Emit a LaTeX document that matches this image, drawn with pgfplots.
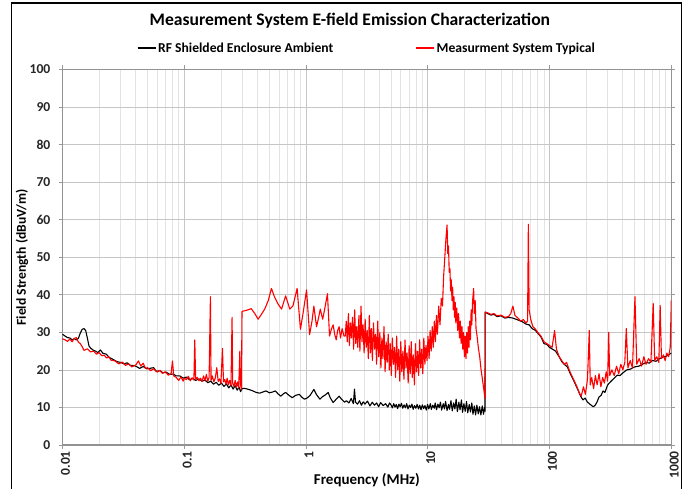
\documentclass[border=0pt]{standalone}
\usepackage{fontspec}
\setmainfont{Carlito}
\usepackage{pgfplots}
\pgfplotsset{compat=1.18}

\newcommand{\tickfont}{\fontsize{13.6}{16}\selectfont\bfseries}

\begin{document}
\begin{tikzpicture}
\useasboundingbox (-62.5pt,-43pt) rectangle (621.5pt,445pt);
\begin{axis}[
  scale only axis,
  width=608.8pt, height=375.5pt,
  xmode=log,
  xmin=0.01, xmax=1000,
  ymin=0, ymax=100,
  xtick={0.01,0.1,1,10,100,1000},
  xticklabels={0.01,0.1,1,10,100,1000},
  ytick={0,10,...,100},
  /pgf/number format/assume math mode=true,
  ticklabel style={font=\tickfont, text=black!85},
  xticklabel style={rotate=90, anchor=east, inner sep=2pt, yshift=-3pt},
  yticklabel style={inner sep=2pt, xshift=-6pt},
  tick align=outside,
  major tick length=4pt,
  minor tick length=0pt,
  tick style={gray!80, line width=0.8pt},
  axis line style={gray!85, line width=1.4pt},
  xmajorgrids, xminorgrids, ymajorgrids,
  major grid style={gray!45, line width=0.8pt},
  minor grid style={gray!22, line width=0.8pt},
  title={Measurement System E-field Emission Characterization},
  title style={at={(0.5,1)}, anchor=base, yshift=37.8pt, xshift=-17pt,
    font=\fontsize{17.6}{20}\selectfont\bfseries},
  xlabel={Frequency (MHz)},
  xlabel style={at={(axis description cs:0.5,0)}, anchor=center, yshift=-35pt,
    font=\fontsize{15}{18}\selectfont\bfseries},
  ylabel={Field Strength (dBuV/m)},
  ylabel style={at={(axis description cs:-0.0665,0.5)}, anchor=center,
    font=\fontsize{13.6}{16}\selectfont\bfseries},
  legend columns=2,
  legend style={draw=none, fill=none, at={(0.5,1)}, anchor=center, yshift=21.5pt,
    font=\tickfont, inner sep=0pt,
    /tikz/every even column/.append style={column sep=80pt}},
  legend image code/.code={\draw[#1, line width=1.4pt] (0pt,0pt) -- (18pt,0pt);},
  every axis plot/.append style={line width=1.1pt, line join=round},
]

% RF shielded enclosure ambient
\addplot[black, mark=none] coordinates {
(0.0100,29.5)(0.0105,29.0)(0.0110,28.6)(0.0115,28.5)(0.0120,28.0)(0.0125,28.3)
(0.0130,28.0)(0.0135,28.4)(0.0140,29.8)(0.0145,30.8)(0.0150,31.0)(0.0155,30.5)
(0.0160,28.5)(0.0165,26.4)(0.0170,25.8)(0.0180,25.2)(0.0187,25.0)(0.0195,24.6)
(0.0205,25.3)(0.0215,24.4)(0.0229,24.2)(0.0240,23.4)(0.0260,22.8)(0.0280,22.2)
(0.0300,22.0)(0.0320,21.6)(0.0340,21.9)(0.0360,21.2)(0.0380,21.2)(0.0400,21.0)
(0.0430,20.4)(0.0460,20.9)(0.0490,20.3)(0.0520,20.4)(0.0560,20.6)(0.0590,19.6)
(0.0630,19.8)(0.0670,19.2)(0.0710,19.4)(0.0760,18.8)(0.0810,18.9)(0.0860,18.4)
(0.0920,18.4)(0.0980,17.8)(0.1040,18.1)(0.1100,17.4)(0.1170,17.7)(0.1240,17.2)
(0.1320,17.6)(0.1400,17.0)(0.1480,17.3)(0.1560,16.6)(0.1650,17.0)(0.1740,16.2)
(0.1830,16.7)(0.1920,15.9)(0.2020,16.5)(0.2120,15.6)(0.2220,16.3)(0.2320,15.2)
(0.2420,16.0)(0.2520,14.9)(0.2620,15.8)(0.2720,14.6)(0.2820,15.4)(0.2900,14.2)
(0.2980,15.0)(0.3100,15.1)(0.3300,14.9)(0.3600,14.5)(0.3900,14.0)(0.4170,13.8)
(0.4400,14.1)(0.4700,14.4)(0.5000,13.9)(0.5300,14.1)(0.5600,14.4)(0.5900,13.6)
(0.6200,13.0)(0.6500,13.6)(0.6800,14.0)(0.7200,13.3)(0.7700,12.6)(0.8200,13.2)
(0.8800,13.5)(0.9200,12.8)(0.9700,12.2)(1.0200,12.5)(1.0800,13.2)(1.1600,14.8)
(1.2200,13.4)(1.3000,12.2)(1.3700,12.9)(1.4500,13.4)(1.5200,14.0)(1.5800,12.6)
(1.6700,11.3)(1.7700,12.2)(1.8700,13.0)(1.9700,12.1)(2.0700,11.4)(2.1500,11.8)
(2.2500,11.2)(2.3500,12.4)(2.4500,11.0)(2.5000,14.9)(2.5500,11.4)(2.6500,10.9)
(2.7500,11.8)(2.8500,10.6)(2.9500,11.5)(3.0500,10.9)(3.20,11.7)(3.35,10.4)
(3.50,11.4)(3.65,10.6)(3.80,11.2)(3.95,10.2)(4.10,11.3)(4.30,10.5)(4.50,11.0)
(4.70,10.1)(4.85,11.2)(5.00,10.6)(5.12,9.9)(5.25,11.0)(5.38,10.1)(5.51,10.8)
(5.65,9.7)(5.79,10.9)(5.93,10.2)(6.08,11.1)(6.23,9.8)(6.39,10.7)(6.55,9.9)
(6.71,11.0)(6.88,9.6)(7.05,10.6)(7.23,10.0)(7.41,10.9)(7.59,9.5)(7.78,10.5)
(7.98,9.8)(8.18,10.8)(8.38,9.6)(8.59,10.6)(8.80,9.4)(9.02,10.7)(9.25,9.7)
(9.48,10.5)(9.72,9.3)(9.96,10.8)(10.2,9.6)(10.5,11.0)(10.7,9.5)(11.0,10.6)
(11.3,9.8)(11.5,11.2)(11.8,9.4)(12.1,10.9)(12.4,9.9)(12.7,11.4)(13.0,9.3)
(13.4,11.0)(13.7,9.6)(14.0,11.6)(14.4,9.2)(14.8,10.8)(15.1,9.5)(15.5,11.8)
(15.9,9.1)(16.3,11.2)(16.7,9.6)(17.1,12.2)(17.5,8.9)(18.0,11.4)(18.4,9.4)
(18.9,12.0)(19.3,8.7)(19.8,11.0)(20.3,9.0)(20.8,11.6)(21.3,8.6)(21.9,10.8)
(22.4,8.8)(23.0,11.2)(23.5,8.2)(24.1,10.4)(24.7,8.0)(25.3,10.6)(26.0,8.3)
(26.6,10.2)(27.3,8.0)(28.0,10.4)(28.7,8.2)(29.3,10.0)(29.5,9.0)
(29.6,35.4)(31,35.0)(33,34.6)(35,34.8)(37,34.2)(40,34.4)
(43,33.8)(46,34.0)(50,33.8)(55,33.3)(60,32.8)(64,32.2)(68,32.0)(72,31.0)
(76,30.6)(80,29.8)(85,28.8)(90,27.0)(95,26.8)(100,26.0)(106,25.5)(112,25.0)
(120,23.5)(126,22.2)(132,21.5)(140,20.8)(148,19.0)(156,17.5)(164,16.0)
(172,14.5)(180,13.0)(188,12.0)(196,12.5)(204,11.5)(212,11.0)(220,10.6)
(228,10.2)(236,10.5)(245,11.4)(255,12.8)(265,13.2)(275,14.4)(285,14.0)
(300,16.0)(320,17.0)(340,17.8)(360,18.6)(380,18.5)(400,19.2)(430,20.0)
(460,20.2)(500,20.8)(540,21.0)(580,21.5)(620,22.0)(660,21.8)(700,22.5)
(750,22.3)(800,23.0)(850,23.4)(900,23.6)(950,24.0)(1000,24.5)
};
\addlegendentry{RF Shielded Enclosure Ambient}

% measurement system typical
\addplot[red, mark=none] coordinates {
(0.0100,28.3)(0.0105,28.0)(0.0110,27.6)(0.0115,28.2)(0.0120,27.5)(0.0125,28.4)
(0.0130,28.6)(0.0135,27.4)(0.0140,27.0)(0.0145,26.2)(0.0150,25.2)(0.0160,25.6)
(0.0170,24.8)(0.0180,25.0)(0.0190,24.2)(0.0200,24.6)(0.0210,23.8)(0.0220,23.9)
(0.0230,23.2)(0.0240,23.5)(0.0250,22.6)(0.0270,22.4)(0.0290,21.6)(0.0310,22.1)
(0.0330,21.2)(0.0350,21.6)(0.0370,20.8)(0.0400,21.3)(0.0420,22.4)(0.0440,21.0)
(0.0460,21.8)(0.0480,20.4)(0.0500,20.6)(0.0530,19.8)(0.0560,20.3)(0.0600,19.4)
(0.0630,19.9)(0.0660,19.1)(0.0700,19.5)(0.0740,18.6)(0.0780,19.0)(0.0800,22.4)
(0.0820,18.4)(0.0860,18.0)(0.0900,17.2)(0.0940,18.1)(0.0980,17.0)(0.1000,17.8)
(0.1040,17.4)(0.1080,18.3)(0.1120,17.1)(0.1160,17.9)(0.1200,17.3)(0.1220,28.0)
(0.1240,17.5)(0.1280,18.0)(0.1320,17.1)(0.1360,17.8)(0.1400,16.9)(0.1440,18.4)
(0.1480,17.2)(0.1520,18.8)(0.1560,17.0)(0.1600,18.0)(0.1640,39.5)(0.1660,17.2)
(0.1700,18.4)(0.1750,16.8)(0.1800,17.9)(0.1850,20.6)(0.1900,16.9)(0.1950,17.6)
(0.2000,16.4)(0.2060,25.7)(0.2100,16.8)(0.2150,17.5)(0.2200,16.2)(0.2250,17.8)
(0.2300,16.0)(0.2360,17.2)(0.2420,15.8)(0.2470,34.0)(0.2500,16.4)(0.2560,15.6)
(0.2620,17.2)(0.2680,15.4)(0.2740,16.8)(0.2800,15.2)(0.2860,25.0)(0.2900,16.0)
(0.2950,14.8)(0.2980,35.6)(0.320,35.8)(0.355,36.3)(0.380,35.0)(0.404,33.5)
(0.430,34.8)(0.458,36.2)(0.490,38.5)(0.520,41.7)(0.550,39.5)(0.590,37.5)
(0.630,36.2)(0.680,39.7)(0.736,36.2)(0.780,37.0)(0.845,41.7)(0.900,30.8)
(0.950,35.5)(1.01,41.3)(1.07,29.4)(1.12,33.0)(1.16,37.0)(1.22,31.5)(1.27,34.0)
(1.31,36.2)(1.37,33.5)(1.42,36.0)(1.50,40.3)(1.56,29.0)(1.62,31.0)(1.67,32.0)
(1.72,29.5)(1.77,28.0)(1.82,30.5)(1.87,31.5)(1.92,28.5)(1.98,31.0)(2.05,29.0)
(2.10,29.0)(2.14,33.0)(2.18,27.5)(2.23,35.0)(2.27,26.5)(2.32,32.5)(2.36,28.5)
(2.41,34.0)(2.46,25.5)(2.51,36.0)(2.56,27.0)(2.61,31.5)(2.66,26.0)(2.72,34.5)
(2.77,25.0)(2.83,37.0)(2.88,27.5)(2.94,32.0)(3.00,24.5)(3.06,33.5)(3.12,26.0)
(3.18,30.5)(3.25,23.0)(3.31,34.5)(3.38,24.5)(3.44,31.0)(3.51,22.5)(3.58,32.5)
(3.66,25.5)(3.73,29.5)(3.80,21.5)(3.88,33.0)(3.96,23.5)(4.04,30.0)(4.12,20.5)
(4.20,28.5)(4.28,23.0)(4.37,31.5)(4.46,19.5)(4.55,27.5)(4.64,22.0)(4.73,29.5)
(4.83,20.0)(4.92,27.0)(5.02,18.5)(5.12,28.5)(5.23,21.5)(5.33,26.0)(5.44,18.0)
(5.55,29.0)(5.66,20.0)(5.77,25.5)(5.89,17.0)(6.00,27.5)(6.12,19.5)(6.25,25.0)
(6.37,17.5)(6.50,28.0)(6.63,20.5)(6.76,24.5)(6.90,16.5)(7.03,26.5)(7.17,19.0)
(7.32,27.5)(7.46,18.0)(7.61,24.0)(7.77,16.0)(7.92,27.0)(8.08,19.5)(8.24,25.0)
(8.41,18.5)(8.57,28.0)(8.75,20.5)(8.92,25.5)(9.10,19.0)(9.28,28.5)(9.47,21.5)
(9.66,26.5)(9.85,22.5)(10.05,29.0)(10.25,23.0)(10.45,30.5)(10.66,25.0)
(10.88,31.5)(11.10,26.0)(11.32,33.0)(11.55,27.5)(11.78,34.5)(12.0,29.5)
(12.3,37.0)(12.6,32.0)(12.9,39.0)(13.2,37.0)(13.5,45.0)(13.8,50.0)(14.1,55.0)
(14.4,58.6)(14.6,51.0)(14.8,53.0)(15.0,46.0)(15.2,47.0)(15.4,41.0)(15.6,44.0)
(15.8,38.5)(16.0,42.0)(16.2,36.0)(16.4,39.5)(16.6,34.0)(16.8,38.0)(17.0,32.5)
(17.3,36.5)(17.6,30.5)(17.9,35.0)(18.2,28.5)(18.5,33.0)(18.8,27.0)(19.1,31.5)
(19.4,25.5)(19.7,30.0)(20.0,23.5)(20.3,29.0)(20.6,23.0)(20.9,30.0)(21.2,24.5)
(21.5,31.5)(21.8,26.0)(22.1,33.0)(22.4,28.0)(22.7,36.0)(23.0,32.0)(23.3,38.0)
(23.5,39.5)(23.8,41.7)(24.1,35.0)(24.5,38.5)(24.9,31.0)(25.4,29.0)(26.0,26.0)
(26.7,23.5)(27.4,20.0)(28.1,17.5)(28.8,15.0)(29.5,12.3)
(29.6,35.4)(31,35.2)(33,34.8)(35,35.0)(37,34.4)(40,34.6)(43,34.0)
(46,34.2)(48,35.0)(50,37.0)(52,34.5)(55,33.8)(58,33.0)(61,33.4)(64,32.5)
(66,33.0)(67,58.8)(68,36.0)(70,33.5)(73,31.5)(76,31.0)(80,30.0)(85,29.0)
(90,27.5)(95,27.0)(100,26.5)(105,26.0)(110,30.5)(114,25.5)(120,23.5)(126,22.5)
(132,21.5)(138,22.0)(145,20.0)(152,18.5)(160,17.0)(168,15.5)(175,14.0)
(182,13.0)(190,15.5)(197,13.5)(205,17.5)(212,30.5)(216,16.0)(222,18.0)
(230,15.0)(238,18.5)(246,16.0)(255,19.0)(264,15.5)(273,18.0)(282,16.5)
(292,19.5)(300,17.0)(306,30.0)(312,18.5)(325,20.0)(340,18.5)(355,21.0)
(370,19.0)(385,21.5)(400,20.0)(415,22.0)(427,31.0)(440,20.5)(460,22.5)
(480,20.5)(503,39.5)(520,21.5)(545,23.0)(570,21.0)(595,23.5)(620,21.5)
(650,23.0)(680,22.0)(710,37.7)(730,22.5)(760,23.5)(790,22.0)(810,37.2)
(830,23.0)(860,24.0)(890,22.5)(920,24.5)(950,23.5)(980,26.0)(1000,38.5)
};
\addlegendentry{Measurment System Typical}
\end{axis}
\draw[black, line width=1.5pt] (-50.8pt,-60pt) rectangle (619.2pt,442pt);
\end{tikzpicture}
\end{document}
